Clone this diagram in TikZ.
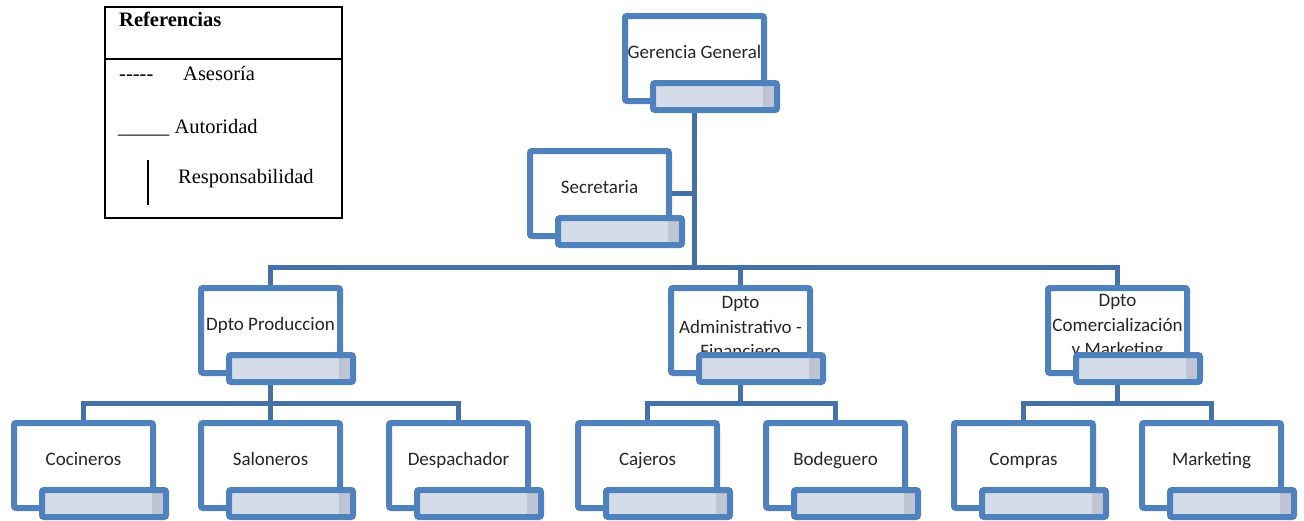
\documentclass[tikz,border=0pt]{standalone}
\usepackage{fontspec}
\newfontfamily\unitfont{Carlito}
\newfontfamily\legendfont{Liberation Serif}
\definecolor{BoxBlue}{RGB}{79, 129, 189}
\definecolor{LinkBlue}{RGB}{68, 114, 168}
\definecolor{BarFill}{RGB}{212, 220, 234}
\definecolor{BarShade}{RGB}{190, 196, 212}
\definecolor{TextGray}{RGB}{38, 38, 38}
\usetikzlibrary{calc, backgrounds}

\begin{document}
\begin{tikzpicture}[x=1pt, y=-1pt,
    unit/.style={draw=BoxBlue, line width=6pt, fill=white, rounded corners=2pt,
                 minimum width=139pt, minimum height=85pt, inner sep=0pt},
    namebar/.style={draw=BoxBlue, line width=6pt, fill=BarFill, rounded corners=2pt,
                 minimum width=124pt, minimum height=27pt, inner sep=0pt,
                 path picture={\fill[BarShade] ([xshift=-14pt]path picture bounding box.north east) rectangle (path picture bounding box.south east);}},
    unittext/.style={font=\unitfont\fontsize{19}{24.5}\selectfont, text=TextGray,
                 align=center, inner sep=0pt, anchor=base},
    link/.style={draw=LinkBlue, line width=5pt},
    legtext/.style={font=\legendfont\fontsize{20.5}{24}\selectfont, anchor=base west, inner sep=0pt}
]
\useasboundingbox (0,0) rectangle (1304,520);

% legend
\draw[line width=1.3pt] (105,7) rectangle (342,218);
\draw[line width=1.3pt] (105,59) -- (342,59);
\node[legtext] (ref-title) at (119,26) {\bfseries Referencias};
\node[legtext] (ref-dash) at (119,80) {-{}-{}-{}-{}-};
\node[legtext] (ref-ase) at (183,80) {Asesoría};
\node[legtext] (ref-aut) at (118,133) {\_\_\_\_\_ Autoridad};
\draw[line width=1.3pt] (148,160) -- (148,205);
\node[legtext] (ref-res) at (178,183) {Responsabilidad};

% top levels
\node[unit] (ger) at (694.5,58.5) {};
\node[unittext] (ger-t) at (ger.center) {Gerencia General};
\node[namebar] (ger-b) at ($(ger.center)+(20.5,38)$) {};

\node[unit] (sec) at (599.5,193.5) {};
\node[unittext] (sec-t) at (sec.center) {Secretaria};
\node[namebar] (sec-b) at ($(sec.center)+(20.5,38)$) {};

% departments
\node[unit] (prod) at (270.5,330.5) {};
\node[unittext] (prod-t) at (prod.center) {Dpto Produccion};
\node[namebar] (prod-b) at ($(prod.center)+(20.5,38)$) {};

\node[unit] (adm) at (740.5,330.5) {};
\node[unittext, anchor=center] (adm-t) at ($(adm.center)+(0,-3.5)$) {Dpto\\Administrativo -\\Financiero};
\node[namebar] (adm-b) at ($(adm.center)+(20.5,38)$) {};

\node[unit] (com) at (1117.5,330.5) {};
\node[unittext, anchor=center] (com-t) at ($(com.center)+(0,-3.5)$) {Dpto\\Comercialización\\y Marketing};
\node[namebar] (com-b) at ($(com.center)+(20.5,38)$) {};

% staff
\node[unit] (coc) at (83.5,465.5) {};
\node[unittext] (coc-t) at (coc.center) {Cocineros};
\node[namebar] (coc-b) at ($(coc.center)+(20.5,38)$) {};

\node[unit] (sal) at (270.5,465.5) {};
\node[unittext] (sal-t) at (sal.center) {Saloneros};
\node[namebar] (sal-b) at ($(sal.center)+(20.5,38)$) {};

\node[unit] (des) at (458.5,465.5) {};
\node[unittext] (des-t) at (des.center) {Despachador};
\node[namebar] (des-b) at ($(des.center)+(20.5,38)$) {};

\node[unit] (caj) at (647.5,465.5) {};
\node[unittext] (caj-t) at (caj.center) {Cajeros};
\node[namebar] (caj-b) at ($(caj.center)+(20.5,38)$) {};

\node[unit] (bod) at (835.5,465.5) {};
\node[unittext] (bod-t) at (bod.center) {Bodeguero};
\node[namebar] (bod-b) at ($(bod.center)+(20.5,38)$) {};

\node[unit] (comp) at (1023.5,465.5) {};
\node[unittext] (comp-t) at (comp.center) {Compras};
\node[namebar] (comp-b) at ($(comp.center)+(20.5,38)$) {};

\node[unit] (mkt) at (1211.5,465.5) {};
\node[unittext] (mkt-t) at (mkt.center) {Marketing};
\node[namebar] (mkt-b) at ($(mkt.center)+(20.5,38)$) {};

% connectors
\begin{scope}[on background layer]
\coordinate (bus) at ($(adm.north)+(0,-18)$);
\draw[link] (prod.north) |- (bus) -| (com.north);
\draw[link] (adm.north) -- (bus);
\draw[link] (ger.south) -- (ger.south |- bus);
\draw[link] (sec.east) -- (sec.east -| ger.south);
\draw[link] (coc.north) -- ++(0,-17) -| (des.north);
\draw[link] (prod.south) -- (sal.north);
\draw[link] (caj.north) -- ++(0,-17) coordinate (adm-bus) -| (bod.north);
\draw[link] (adm.south) -- (adm.south |- adm-bus);
\draw[link] (comp.north) -- ++(0,-17) coordinate (com-bus) -| (mkt.north);
\draw[link] (com.south) -- (com.south |- com-bus);
\end{scope}
\end{tikzpicture}
\end{document}
